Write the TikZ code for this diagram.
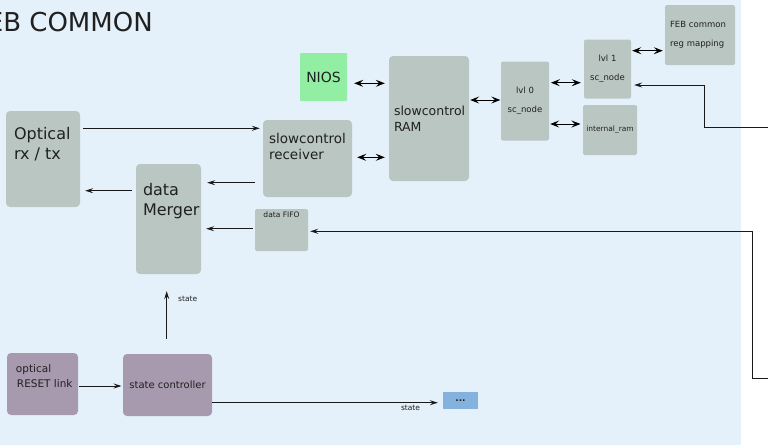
\documentclass[tikz,border=0pt]{standalone}
\usepackage{fontspec}
\setmainfont{DejaVu Sans}
\usetikzlibrary{arrows.meta,calc}
\definecolor{bg}{RGB}{228,241,250}
\definecolor{boxgray}{RGB}{185,198,193}
\definecolor{boxpurple}{RGB}{168,154,174}
\definecolor{boxgreen}{RGB}{145,238,163}
\definecolor{boxblue}{RGB}{132,177,222}
\definecolor{txt}{RGB}{32,32,32}
\begin{document}
\begin{tikzpicture}[x=1pt,y=-1pt,
  blk/.style={fill=boxgray, rounded corners=4pt, inner sep=0pt, text=txt},
  pblk/.style={blk, fill=boxpurple},
  lbl/.style={inner sep=0pt, align=left, text=txt},
  arr/.style={-{Stealth[length=8pt,width=5pt,inset=3pt]}, line width=0.9pt, draw=black!90},
  biarr/.style={{Stealth[length=9pt,width=7pt,inset=3.5pt]}-{Stealth[length=9pt,width=7pt,inset=3.5pt]}, line width=1pt, draw=black},
  stlbl/.style={inner sep=0pt, text=txt, font=\fontsize{7.5}{9}\selectfont}
]
\useasboundingbox (0,0) rectangle (768,445);
\fill[bg] (0,0) rectangle (741,445);

\node[anchor=base east, inner sep=0pt, text=txt, font=\fontsize{26}{30}\selectfont] (title) at (153,31) {FEB COMMON};

% boxes
\node[blk, minimum width=74pt, minimum height=96pt,
  label={[lbl, font=\fontsize{16}{20}\selectfont, anchor=north west, xshift=8pt, yshift=-16pt]north west:Optical\\rx / tx}] (opt) at (43,159) {};
\node[blk, minimum width=89pt, minimum height=77pt,
  label={[lbl, font=\fontsize{13.5}{16.5}\selectfont, anchor=north west, xshift=6pt, yshift=-13pt]north west:slowcontrol\\receiver}] (scr) at (307.5,158.5) {};
\node[blk, minimum width=65pt, minimum height=110pt,
  label={[lbl, font=\fontsize{16}{20}\selectfont, anchor=north west, xshift=7pt, yshift=-19pt]north west:data\\Merger}] (dm) at (168.5,219) {};
\node[blk, rounded corners=2pt, minimum width=53pt, minimum height=42pt,
  label={[lbl, font=\fontsize{7.5}{9}\selectfont, anchor=north, yshift=-3pt]north:data FIFO}] (fifo) at (281.5,230) {};
\node[blk, minimum width=80pt, minimum height=125pt, inner xsep=5pt, text width=70pt, align=left,
  font=\fontsize{12.5}{15.5}\selectfont] (ram) at (429,118.5) {slowcontrol\\RAM};
\node[blk, rounded corners=2pt, minimum width=48pt, minimum height=79pt, align=center,
  font=\fontsize{8.5}{19}\selectfont] (lvl0) at (525,101) {lvl 0\\sc\_node};
\node[blk, rounded corners=2pt, minimum width=47pt, minimum height=59pt, align=center,
  font=\fontsize{8.5}{19}\selectfont] (lvl1) at (607.5,69) {lvl 1\\sc\_node};
\node[blk, rounded corners=2pt, minimum width=54pt, minimum height=50pt, align=center,
  font=\fontsize{7.5}{9}\selectfont] (iram) at (610,130) {internal\_ram};
\node[blk, rounded corners=2pt, minimum width=70pt, minimum height=60pt, inner xsep=5pt, text width=60pt, align=left,
  font=\fontsize{8.5}{18.5}\selectfont] (feb) at (700,35) {FEB common\\reg mapping};
\node[blk, fill=boxgreen, rounded corners=1pt, minimum width=47pt, minimum height=48pt,
  font=\fontsize{14}{16}\selectfont] (nios) at (323.5,77) {NIOS};
\node[pblk, minimum width=71pt, minimum height=62pt,
  label={[lbl, font=\fontsize{10.5}{15}\selectfont, anchor=north west, xshift=9pt, yshift=-12pt]north west:optical\\\hspace*{1pt}RESET link}] (orl) at (42.5,384) {};
\node[pblk, minimum width=89pt, minimum height=62pt,
  font=\fontsize{10}{12}\selectfont] (sc) at (167.5,385) {state controller};
\node[blk, fill=boxblue, rounded corners=0pt, minimum width=35pt, minimum height=17pt,
  font=\bfseries\fontsize{9}{10}\selectfont] (dots) at (460.5,400.5) {...};

% external entry points
\coordinate (in1) at (768,127.3);
\coordinate (in2) at (768,378.7);

% connectors
\draw[arr, shorten <=3pt, shorten >=3pt] (opt.east |- 0,128.3) -- (scr.west |- 0,128.3);
\draw[arr, shorten <=8pt, shorten >=6pt] (scr.west |- 0,182.7) -- (dm.east |- 0,182.7);
\draw[arr, shorten <=4pt, shorten >=5pt] (dm.west |- 0,190.7) -- (opt.east |- 0,190.7);
\draw[biarr, shorten <=7pt, shorten >=4pt] (nios.east |- 0,83.3) -- (ram.west |- 0,83.3);
\draw[biarr, shorten <=5pt, shorten >=4pt] (scr.east |- 0,157.3) -- (ram.west |- 0,157.3);
\draw[biarr, shorten <=1pt, shorten >=0.5pt] (ram.east |- 0,100) -- (lvl0.west |- 0,100);
\draw[biarr, shorten <=1.7pt, shorten >=3pt] (lvl0.east |- 0,82.7) -- (lvl1.west |- 0,82.7);
\draw[biarr, shorten <=1pt, shorten >=2.3pt] (lvl0.east |- 0,124) -- (iram.west |- 0,124);
\draw[biarr, shorten <=1pt, shorten >=2pt] (lvl1.east |- 0,50.7) -- (feb.west |- 0,50.7);
\draw[arr, shorten >=3pt] (in1) -- (704,127.3) |- (lvl1.east |- 0,85);
\draw[arr, shorten >=2pt] (in2) -- (752.3,378.7) |- (fifo.east |- 0,231.3);
\draw[arr, shorten <=2pt, shorten >=5pt] (fifo.west |- 0,228.7) -- (dm.east |- 0,228.7);
\draw[arr, shorten <=15pt, shorten >=17pt] (sc.north -| 166.7,0) -- (dm.south -| 166.7,0)
  node[stlbl, anchor=west, pos=0.69, xshift=11pt] (st1) {state};
\draw[arr, shorten >=5pt] (sc.east |- 0,402.7) -- (dots.west |- 0,402.7)
  node[stlbl, anchor=north, pos=0.86, yshift=-2.5pt] (st2) {state};
\draw[arr, shorten <=1pt, shorten >=1.3pt] (orl.east |- 0,386) -- (sc.west |- 0,386);
\end{tikzpicture}
\end{document}
